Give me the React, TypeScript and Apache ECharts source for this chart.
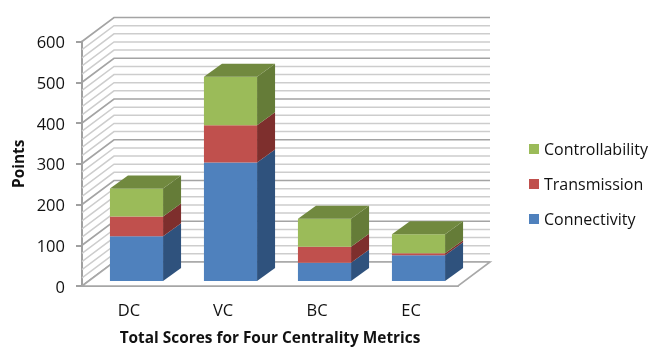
import React, { useEffect, useRef } from "react";
import * as echarts from "echarts";

const categories = ["DC", "VC", "BC", "EC"];
const connectivity = [110, 291, 45, 63];
const transmission = [48, 91, 39, 5];
const controllability = [69, 119, 69, 47];
const wallTicks = Array.from({ length: 31 }, (_, i) => i * 20);

const FONT = '"Open Sans", "Noto Sans", sans-serif';
const WALL_DX = 32;
const WALL_DY = -24;
const BAR_SHIFT_X = 7.5;
const BAR_SHIFT_Y = -5;
const BAR_DX = 18;
const BAR_DY = -13;

const layers = [
  { name: "Connectivity", values: connectivity, front: "#4f81bd", side: "#2f527d", top: "#3c6596" },
  { name: "Transmission", values: transmission, front: "#c0504d", side: "#7e2f2d", top: "#96403d" },
  { name: "Controllability", values: controllability, front: "#9bbb59", side: "#657c38", top: "#71893f" },
];

// One stacked box: the front face plus its receding side, and a lid on the top layer.
function boxItem(isTopLayer: boolean, colors: { front: string; side: string; top: string }) {
  return (_params: any, api: any) => {
    const cat = api.value(0);
    const [cx, y0] = api.coord([cat, api.value(1)]);
    const [, y1] = api.coord([cat, api.value(2)]);
    const w = api.size([1, 0])[0] * 0.565;
    const l = cx + BAR_SHIFT_X - w / 2;
    const r = l + w;
    const b = y0 + BAR_SHIFT_Y;
    const t = y1 + BAR_SHIFT_Y;
    const children: any[] = [
      {
        type: "polygon",
        shape: { points: [[r, b], [r + BAR_DX, b + BAR_DY], [r + BAR_DX, t + BAR_DY], [r, t]] },
        style: { fill: colors.side },
      },
      { type: "rect", shape: { x: l, y: t, width: w, height: b - t }, style: { fill: colors.front } },
    ];
    if (isTopLayer) {
      children.push({
        type: "polygon",
        shape: { points: [[l, t], [r, t], [r + BAR_DX, t + BAR_DY], [l + BAR_DX, t + BAR_DY]] },
        style: { fill: colors.top },
      });
    }
    return { type: "group", children };
  };
}

// A gridline running up the left wall and along the back wall at one axis value.
function wallItem(params: any, api: any) {
  const v = api.value(0);
  const [, y] = api.coord([0, v]);
  const sys = params.coordSys;
  const left = sys.x;
  const right = sys.x + sys.width;
  const major = v % 100 === 0;
  return {
    type: "polyline",
    shape: { points: [[left, y], [left + WALL_DX, y + WALL_DY], [right + WALL_DX, y + WALL_DY]] },
    style: { fill: "none", stroke: major ? "#a4a4a4" : "#cdcdcd", lineWidth: major ? 1.7 : 1.5 },
  };
}

// The white floor of the chart box.
function floorItem(params: any, api: any) {
  const [, y0] = api.coord([0, 0]);
  const sys = params.coordSys;
  const left = sys.x;
  const right = sys.x + sys.width;
  return {
    type: "polygon",
    shape: { points: [[left, y0], [right, y0], [right + WALL_DX, y0 + WALL_DY], [left + WALL_DX, y0 + WALL_DY]] },
    style: { fill: "#ffffff", stroke: "#a8a8a8", lineWidth: 1.6 },
  };
}

export default function App() {
  const ref = useRef<HTMLDivElement>(null);
  useEffect(() => {
    const chart = echarts.init(ref.current!, null, { renderer: "svg" });
    let running = [0, 0, 0, 0];
    const boxes = layers.map((layer, idx) => {
      const rows = layer.values.map((v, i) => [i, running[i], running[i] + v]);
      running = running.map((s, i) => s + layer.values[i]);
      return {
        type: "custom",
        name: layer.name,
        clip: false,
        z: 5,
        itemStyle: { color: layer.front },
        encode: { x: 0, y: [1, 2] },
        data: rows,
        renderItem: boxItem(idx === layers.length - 1, layer),
      };
    });
    chart.setOption({
      animation: false,
      textStyle: { fontFamily: FONT },
      grid: { left: 82, top: 41.5, width: 376, height: 244.5, outerBoundsMode: "none" },
      legend: {
        data: [
          { name: "Controllability", icon: "rect" },
          { name: "Transmission", icon: "rect" },
          { name: "Connectivity", icon: "rect" },
        ],
        orient: "vertical",
        left: 529,
        top: 141,
        itemWidth: 10,
        itemHeight: 10,
        itemGap: 19,
        padding: 0,
        textStyle: { fontFamily: FONT, fontSize: 16, color: "#111111" },
      },
      xAxis: {
        type: "category",
        data: categories,
        name: "Total Scores for Four Centrality Metrics",
        nameLocation: "middle",
        nameGap: 44,
        nameTextStyle: { fontFamily: FONT, fontSize: 15.4, fontWeight: "bold", color: "#111111" },
        axisLine: { lineStyle: { color: "#a0a0a0", width: 2 } },
        axisTick: { show: false },
        axisLabel: { fontFamily: FONT, fontSize: 16.5, color: "#111111", margin: 15 },
        splitLine: { show: false },
      },
      yAxis: {
        type: "value",
        min: 0,
        max: 600,
        interval: 100,
        name: "Points",
        nameLocation: "middle",
        nameGap: 56,
        nameTextStyle: { fontFamily: FONT, fontSize: 15.4, fontWeight: "bold", color: "#111111" },
        axisLine: { show: true, lineStyle: { color: "#a0a0a0", width: 2 } },
        axisTick: { show: true, length: 6, lineStyle: { color: "#a0a0a0", width: 2 } },
        axisLabel: { fontFamily: FONT, fontSize: 16.5, color: "#111111", margin: 17 },
        splitLine: { show: false },
      },
      series: [
        { type: "custom", name: "wall", silent: true, z: 1, clip: false, encode: { y: 0 }, data: wallTicks.map((v) => [v]), renderItem: wallItem },
        { type: "custom", name: "floor", silent: true, z: 2, clip: false, data: [[0]], encode: { y: 0 }, renderItem: floorItem },
        ...boxes,
      ],
    });
    return () => chart.dispose();
  }, []);
  return <div ref={ref} style={{ width: 650, height: 347, position: "fixed", left: 0, top: 0 }} />;
}
